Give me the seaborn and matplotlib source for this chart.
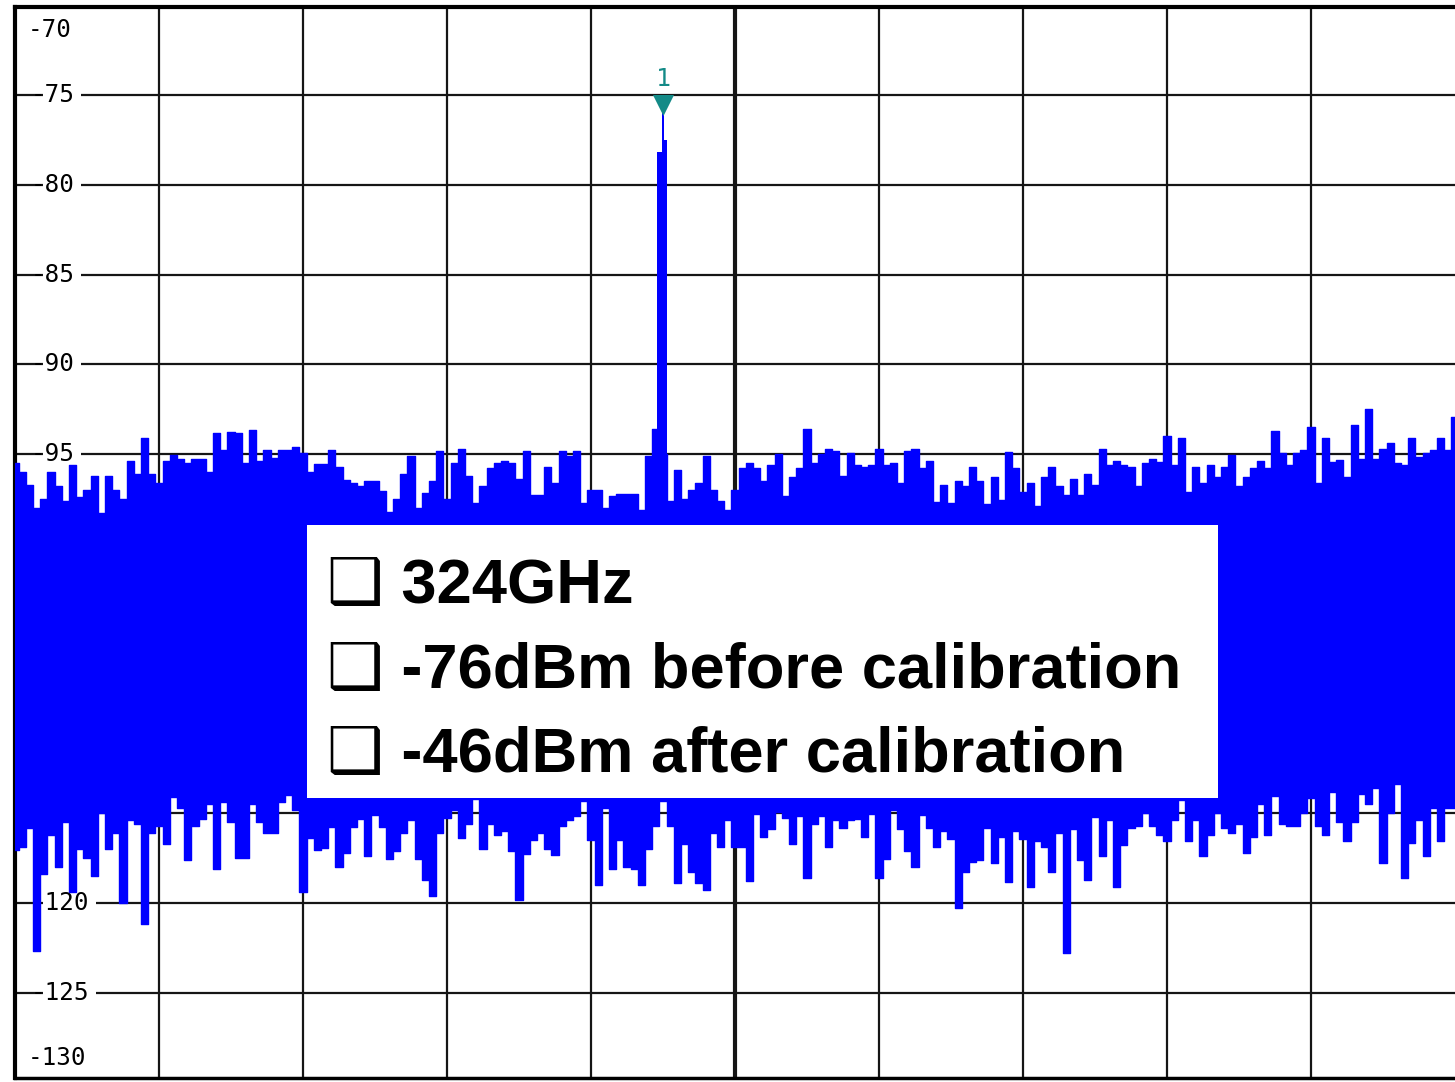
import numpy as np
import pandas as pd
import matplotlib
matplotlib.use("Agg")
import matplotlib.pyplot as plt
from matplotlib.patches import Rectangle
import seaborn as sns

# ---------------- data ----------------
# trace sample positions: 0..1000 (10 divisions of 100), one sample every 5 units
freq_idx = list(range(0, 1001, 5))

# upper edge of the noise trace (dBm)
top_db = [
    -95.5, -96.0, -96.7, -98.0, -97.5, -96.0, -96.8, -97.6, -95.6, -97.4,
    -97.0, -96.2, -98.3, -96.2, -97.0, -97.5, -95.4, -96.1, -94.1, -96.1,
    -96.6, -95.4, -95.05, -95.3, -95.5, -95.3, -95.3, -96.0, -93.85, -94.8,
    -93.75, -93.85, -95.5, -93.66, -95.4, -94.8, -95.2, -94.8, -94.8, -94.6,
    -94.95, -96.0, -95.55, -95.55, -94.8, -95.7, -96.45, -96.6, -96.8, -96.5,
    -96.5, -97.05, -98.2, -97.5, -96.1, -95.1, -98.0, -97.15, -96.5, -94.85,
    -97.5, -95.5, -94.7, -96.2, -97.7, -96.8, -95.8, -95.5, -95.4, -95.5,
    -96.4, -94.85, -97.3, -97.3, -95.7, -96.6, -94.85, -95.1, -94.85, -97.7,
    -97.0, -97.0, -98.0, -97.35, -97.2, -97.25, -97.25, -98.1, -95.1, -93.6,
    -95.0, -97.6, -95.9, -97.5, -97.0, -96.6, -95.1, -97.0, -97.6, -98.1,
    -97.0, -95.8, -95.5, -95.8, -96.5, -95.6, -95.0, -97.35, -96.3, -95.8,
    -93.6, -95.5, -95.0, -94.7, -94.85, -96.2, -94.95, -95.6, -95.7, -95.6,
    -94.7, -95.6, -95.5, -96.6, -94.85, -94.7, -95.8, -95.4, -97.65, -96.7,
    -97.75, -96.5, -96.8, -95.7, -96.5, -97.8, -96.3, -97.55, -94.9, -95.8,
    -97.1, -96.6, -97.9, -96.3, -95.7, -96.8, -97.3, -96.4, -97.3, -96.1,
    -96.7, -94.7, -95.6, -95.4, -95.6, -95.7, -96.8, -95.5, -95.25, -95.45,
    -94.0, -95.6, -94.1, -97.1, -95.7, -96.6, -95.6, -96.3, -95.7, -95.05,
    -96.8, -96.3, -95.8, -95.4, -95.8, -93.7, -94.95, -95.6, -94.95, -94.8,
    -93.5, -96.6, -94.1, -95.45, -95.35, -96.3, -93.4, -95.25, -92.5, -95.25,
    -94.7, -94.4, -95.5, -95.6, -94.1, -95.15, -94.95, -94.8, -94.1, -94.8,
    -92.95,
]

# lower edge of the noise trace (dBm)
bot_db = [
    -117.05, -116.9, -115.8, -122.7, -118.4, -116.2, -118.0, -115.5, -119.4, -117.0,
    -117.5, -118.5, -115.0, -117.0, -116.1, -120.0, -115.4, -115.6, -121.2, -116.1,
    -115.7, -116.7, -114.1, -114.7, -117.6, -115.7, -115.3, -114.5, -118.1, -114.4,
    -115.5, -117.5, -117.5, -114.5, -115.5, -116.1, -116.1, -114.4, -114.0, -114.8,
    -119.4, -116.4, -117.05, -116.95, -115.75, -118.0, -117.2, -115.75, -115.3, -117.4,
    -115.1, -115.75, -117.55, -117.1, -116.1, -115.4, -117.55, -118.7, -119.6, -116.1,
    -115.25, -114.85, -116.4, -115.6, -114.2, -117.0, -115.6, -116.2, -116.0, -117.1,
    -119.85, -117.25, -116.5, -116.1, -117.0, -117.35, -115.7, -115.4, -115.15, -114.3,
    -116.5, -119.0, -114.7, -118.1, -116.5, -118.0, -118.1, -119.0, -117.0, -115.7,
    -114.3, -115.7, -118.9, -116.7, -118.3, -118.9, -119.3, -116.1, -116.9, -115.4,
    -116.9, -116.9, -118.8, -115.05, -116.3, -115.9, -114.95, -115.25, -116.7, -115.15,
    -118.6, -115.6, -115.15, -116.9, -115.4, -115.8, -115.4, -115.35, -116.3, -115.05,
    -118.6, -117.55, -114.85, -115.9, -117.1, -118.0, -115.1, -115.8, -116.9, -116.0,
    -116.45, -120.3, -118.3, -117.7, -117.6, -115.8, -117.8, -116.35, -118.85, -116.0,
    -116.45, -119.1, -116.55, -116.9, -118.3, -116.1, -122.8, -115.9, -117.6, -118.75,
    -115.2, -117.4, -115.4, -119.1, -116.8, -115.8, -115.7, -115.0, -115.7, -116.2,
    -116.55, -115.4, -114.25, -116.55, -115.4, -117.4, -116.2, -115.0, -115.8, -116.1,
    -115.6, -117.2, -116.35, -114.5, -116.2, -114.05, -115.6, -115.7, -115.7, -115.0,
    -114.15, -115.7, -116.2, -113.8, -115.5, -116.55, -115.5, -113.95, -114.5, -113.6,
    -117.8, -115.0, -113.4, -118.6, -116.65, -115.4, -117.4, -114.7, -116.55, -114.7,
    -114.7,
]

# the 324 GHz carrier (fine resolution around the peak)
carrier_x = [444, 445, 446, 447, 448, 449, 450, 451, 452, 453]
carrier_top = [-93.6, -93.6, -78.2, -78.2, -78.2, -78.2, -75.6, -77.5, -77.5, -93.6]

# marker 1 on the peak
marker_x = [450]
marker_db = [-76.0]
marker_label = "1"

# y-axis labels of the instrument screen
y_vals = [-70, -75, -80, -85, -90, -95, -100, -105, -110, -115, -120, -125, -130]
y_labels = ["-70", "-75", "-80", "-85", "-90", "-95", "-100", "-105", "-110",
            "-115", "-120", "-125", "-130"]
x_grid = [100, 200, 300, 400, 500, 600, 700, 800, 900]

note_lines = ["\u2751 324GHz",
              "\u2751 -76dBm before calibration",
              "\u2751 -46dBm after calibration"]

# ---------------- figure ----------------
sns.set_style("white")
plt.rcParams["font.family"] = ["Liberation Sans", "DejaVu Sans"]

W, H = 1455, 1082
fig = plt.figure(figsize=(W / 100, H / 100), dpi=100)
fig.patch.set_facecolor("white")
ax = fig.add_axes([15 / W, (H - 1078) / H, 1440 / W, 1071 / H])
XMIN, XMAX = 0, 1000
YTOP, YBOT = -70.1, -129.75
ax.set_xlim(XMIN, XMAX)
ax.set_ylim(YBOT, YTOP)


def dx(px):
    return XMIN + (px - 15) * (XMAX - XMIN) / 1440.0


def dy(py):
    return YTOP - (py - 7) * (YTOP - YBOT) / 1071.0


px_per_db = 1071.0 / (YTOP - YBOT)

# grid
GRID = "#151515"
for v in x_grid:
    ax.axvline(v, color=GRID, lw=3.0 if v == 500 else 1.6, zorder=1)
for v in y_vals[1:-1]:
    ax.axhline(v, color=GRID, lw=1.6, zorder=1)

# y labels (screen annotations)
LBL_SIZE = 17.5
LBL = dict(family="DejaVu Sans Mono", fontsize=LBL_SIZE, color="black")
char_px = LBL_SIZE / 72 * 100 * 0.602
for v, lab in zip(y_vals, y_labels):
    if v == -70:
        ax.text(dx(28), dy(30), lab, ha="left", va="center", zorder=2, **LBL)
    elif v == -130:
        ax.text(dx(28), dy(1058), lab, ha="left", va="center", zorder=2, **LBL)
    else:
        x_start = 31
        x0 = x_start + char_px - 3
        w = (len(lab) - 1) * char_px + 9
        ax.add_patch(Rectangle((dx(x0), v - 10 / px_per_db), dx(x0 + w) - dx(x0),
                               20 / px_per_db, facecolor="white", edgecolor="none",
                               zorder=1.5))
        ax.text(dx(x_start), v, lab, ha="left", va="center", zorder=2, **LBL)

# trace
BLUE = "#0000ff"
df = pd.DataFrame({"freq": freq_idx, "top": top_db, "bot": bot_db})
ax.fill_between(df["freq"], df["bot"], df["top"], step="mid", color=BLUE,
                lw=0, zorder=3)
sns.lineplot(data=df, x="freq", y="top", drawstyle="steps-mid", color=BLUE,
             lw=1.0, estimator=None, ax=ax, zorder=3)
sns.lineplot(data=df, x="freq", y="bot", drawstyle="steps-mid", color=BLUE,
             lw=1.0, estimator=None, ax=ax, zorder=3)
ax.fill_between(carrier_x, bot_db[90], carrier_top, step="mid", color=BLUE,
                lw=0, zorder=3)

# marker
TEAL = "#138a87"
mk = pd.DataFrame({"x": marker_x, "y": [m + 8 / px_per_db for m in marker_db]})
sns.scatterplot(data=mk, x="x", y="y", marker="v", s=230, color=TEAL,
                linewidth=0, ax=ax, zorder=7)
ax.text(marker_x[0], dy(79), marker_label, ha="center", va="center",
        color=TEAL, family="DejaVu Sans Mono", fontsize=18, zorder=7)

# white note box
ax.add_patch(Rectangle((dx(307), dy(798)), dx(1218) - dx(307), dy(525) - dy(798),
                       facecolor="white", edgecolor="none", zorder=5))
for s, base in zip(note_lines, [603, 688, 772]):
    ax.text(dx(327), dy(base), s, ha="left", va="baseline", fontsize=45.5,
            fontweight="bold", family=["Liberation Sans", "DejaVu Sans"],
            color="black", zorder=6)

# frame
ax.set_xticks([])
ax.set_yticks([])
ax.set_xlabel("")
ax.set_ylabel("")
for side, lw in [("left", 3.0), ("top", 3.0), ("bottom", 2.5)]:
    ax.spines[side].set_visible(True)
    ax.spines[side].set_color("black")
    ax.spines[side].set_linewidth(lw)
ax.spines["right"].set_visible(False)

fig.savefig("out.png", dpi=100, facecolor="white")
